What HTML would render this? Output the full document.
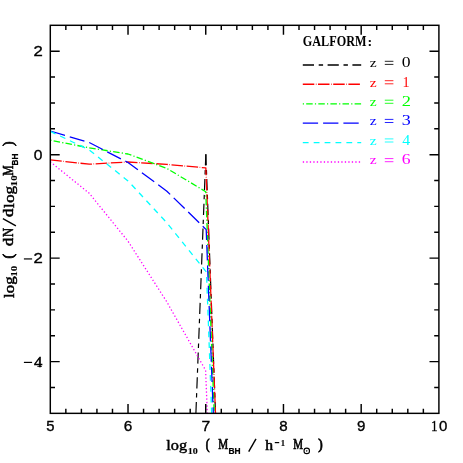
<!DOCTYPE html>
<html><head><meta charset="utf-8"><title>GALFORM</title>
<style>
html,body{margin:0;padding:0;background:#fff;}
body{width:463px;height:463px;overflow:hidden;}
svg{display:block;will-change:transform;}
text{font-family:"Liberation Serif",serif;}
</style></head><body>
<svg width="463" height="463" viewBox="0 0 463 463">
<rect x="0" y="0" width="463" height="463" fill="#ffffff"/>
<defs><clipPath id="cp"><rect x="50.30" y="25.30" width="388.60" height="388.05"/></clipPath></defs>

<g clip-path="url(#cp)" fill="none" stroke-linejoin="round">
<path d="M205.85 154.2L215.5 413.35" stroke="#000" stroke-width="1.2" stroke-dasharray="11.2 4.7 4.4 4.5"/>
<path d="M205.85 154.20 L195.90 413.35" stroke="#000000" stroke-width="1.20" stroke-dasharray="11.2 4.7 4.4 4.5" stroke-dashoffset="0"/>
<path d="M50.30 159.90 L89.16 164.20 L128.02 162.00 L166.88 164.40 L205.84 167.90 L215.50 413.35" stroke="#ff0000" stroke-width="1.30" stroke-dasharray="11.5 1.55 0.6 1.55" stroke-dashoffset="0"/>
<path d="M50.30 140.20 L89.16 147.80 L128.02 154.00 L166.88 168.40 L205.74 191.70 L214.20 413.35" stroke="#00ff00" stroke-width="1.30" stroke-dasharray="1.2 2.2 6.5 2.2" stroke-dashoffset="0"/>
<path d="M50.30 131.00 L89.16 142.50 L128.02 162.50 L166.88 191.20 L206.20 229.60 L213.30 413.35" stroke="#0000ff" stroke-width="1.30" stroke-dasharray="15.3 5.0" stroke-dashoffset="0"/>
<path d="M50.30 131.30 L89.16 149.90 L128.02 180.90 L166.88 222.90 L206.50 272.20 L211.70 413.35" stroke="#00ffff" stroke-width="1.30" stroke-dasharray="5.8 5.1" stroke-dashoffset="0"/>
<path d="M50.30 161.80 L89.16 193.20 L128.02 241.20 L166.88 302.00 L205.60 370.30 L207.30 413.35" stroke="#ff00ff" stroke-width="1.30" stroke-dasharray="1.3 2.2" stroke-dashoffset="0"/>
</g>
<g stroke="#000" stroke-width="1.45" fill="none">
<rect x="50.30" y="25.30" width="388.60" height="388.05"/>
<path d="M65.84 413.35V408.65M65.84 25.30V30.00M81.39 413.35V408.65M81.39 25.30V30.00M96.93 413.35V408.65M96.93 25.30V30.00M112.48 413.35V408.65M112.48 25.30V30.00M128.02 413.35V403.95M128.02 25.30V34.70M143.56 413.35V408.65M143.56 25.30V30.00M159.11 413.35V408.65M159.11 25.30V30.00M174.65 413.35V408.65M174.65 25.30V30.00M190.20 413.35V408.65M190.20 25.30V30.00M205.74 413.35V403.95M205.74 25.30V34.70M221.28 413.35V408.65M221.28 25.30V30.00M236.83 413.35V408.65M236.83 25.30V30.00M252.37 413.35V408.65M252.37 25.30V30.00M267.92 413.35V408.65M267.92 25.30V30.00M283.46 413.35V403.95M283.46 25.30V34.70M299.00 413.35V408.65M299.00 25.30V30.00M314.55 413.35V408.65M314.55 25.30V30.00M330.09 413.35V408.65M330.09 25.30V30.00M345.64 413.35V408.65M345.64 25.30V30.00M361.18 413.35V403.95M361.18 25.30V34.70M376.72 413.35V408.65M376.72 25.30V30.00M392.27 413.35V408.65M392.27 25.30V30.00M407.81 413.35V408.65M407.81 25.30V30.00M423.36 413.35V408.65M423.36 25.30V30.00M50.30 387.48H55.00M438.90 387.48H434.20M50.30 361.61H59.70M438.90 361.61H429.50M50.30 335.74H55.00M438.90 335.74H434.20M50.30 309.87H55.00M438.90 309.87H434.20M50.30 284.00H55.00M438.90 284.00H434.20M50.30 258.13H59.70M438.90 258.13H429.50M50.30 232.26H55.00M438.90 232.26H434.20M50.30 206.39H55.00M438.90 206.39H434.20M50.30 180.52H55.00M438.90 180.52H434.20M50.30 154.65H59.70M438.90 154.65H429.50M50.30 128.78H55.00M438.90 128.78H434.20M50.30 102.91H55.00M438.90 102.91H434.20M50.30 77.04H55.00M438.90 77.04H434.20M50.30 51.17H59.70M438.90 51.17H429.50"/>
</g>
<g>
<text transform="matrix(1.2116 0 0 1.0139 166.300 449.632)" font-size="13.5" fill="#000" stroke="#000" stroke-width="0.42">log</text>
<text transform="matrix(1.2276 0 0 1.0667 187.833 453.767)" font-size="8.2" font-weight="bold" fill="#000" stroke="#000" stroke-width="0.1">10</text>
<text transform="matrix(0.8485 0 0 1.0491 205.688 448.959)" font-size="13.5" fill="#000" stroke="#000" stroke-width="0.75">(</text>
<text transform="matrix(0.8255 0 0 1.0240 218.297 449.344)" font-size="13.5" fill="#000" stroke="#000" stroke-width="0.6">M</text>
<text transform="matrix(1.1062 0 0 1.1455 228.385 453.757)" font-size="7.6" style="font-family:'Liberation Sans',sans-serif" font-weight="bold" fill="#000" stroke="#000" stroke-width="0.2">BH</text>
<text transform="matrix(1.1571 0 0 1.0127 265.245 449.547)" font-size="13.5" fill="#000" stroke="#000" stroke-width="0.5">h</text>
<text transform="matrix(1.0560 0 0 1.0182 280.840 445.600)" font-size="8.2" font-weight="bold" fill="#000" stroke="#000" stroke-width="0.1">1</text>
<text transform="matrix(0.8170 0 0 1.0240 293.298 449.344)" font-size="13.5" fill="#000" stroke="#000" stroke-width="0.6">M</text>
<text transform="matrix(0.9882 0 0 1.0566 318.200 448.934)" font-size="13.5" fill="#000" stroke="#000" stroke-width="0.75">)</text>
<text transform="matrix(1.0034 0 0 0.9553 46.224 430.711)" font-size="14.8" style="font-family:'Liberation Sans',sans-serif" fill="#000" stroke="#000" stroke-width="0.35">5</text>
<text transform="matrix(1.0386 0 0 0.9442 123.671 430.714)" font-size="14.8" style="font-family:'Liberation Sans',sans-serif" fill="#000" stroke="#000" stroke-width="0.35">6</text>
<text transform="matrix(1.0571 0 0 0.9524 201.379 430.681)" font-size="14.8" style="font-family:'Liberation Sans',sans-serif" fill="#000" stroke="#000" stroke-width="0.35">7</text>
<text transform="matrix(1.0207 0 0 0.9442 279.250 430.714)" font-size="14.8" style="font-family:'Liberation Sans',sans-serif" fill="#000" stroke="#000" stroke-width="0.35">8</text>
<text transform="matrix(1.0207 0 0 0.9442 356.970 430.714)" font-size="14.8" style="font-family:'Liberation Sans',sans-serif" fill="#000" stroke="#000" stroke-width="0.35">9</text>
<text transform="matrix(0.8356 0 0 0.9778 431.260 430.678)" font-size="14.8" fill="#000" stroke="#000" stroke-width="0.4">1</text>
<text transform="matrix(1.0133 0 0 0.9581 438.920 430.760)" font-size="14.8" style="font-family:'Liberation Sans',sans-serif" fill="#000" stroke="#000" stroke-width="0.35">0</text>
<text transform="matrix(1.1286 0 0 0.9694 33.495 56.149)" font-size="14.8" style="font-family:'Liberation Sans',sans-serif" fill="#000" stroke="#000" stroke-width="0.35">2</text>
<text transform="matrix(1.0533 0 0 0.9581 33.805 159.510)" font-size="14.8" style="font-family:'Liberation Sans',sans-serif" fill="#000" stroke="#000" stroke-width="0.35">0</text>
<text transform="matrix(1.1286 0 0 0.9694 33.495 263.109)" font-size="14.8" style="font-family:'Liberation Sans',sans-serif" fill="#000" stroke="#000" stroke-width="0.35">2</text>
<text transform="matrix(1.1254 0 0 1.0049 34.000 366.559)" font-size="14.8" fill="#000" stroke="#000" stroke-width="0.5">4</text>
<text transform="matrix(0.8430 0 0 1.0564 302.768 46.068)" font-size="14.5" font-weight="bold" fill="#000">GALFORM</text>
<text transform="matrix(0.9778 0 0 0.9000 367.578 45.675)" font-size="14.5" font-weight="bold" fill="#000">:</text>
<text transform="matrix(1.1619 0 0 0.9959 369.664 67.100)" font-size="13.4" fill="#000000">z</text>
<text transform="matrix(1.3156 0 0 1.0278 401.842 67.122)" font-size="13.4" fill="#000000">0</text>
<text transform="matrix(1.1619 0 0 0.9959 369.664 86.500)" font-size="13.4" fill="#ff0000">z</text>
<text transform="matrix(1.0526 0 0 1.0254 402.416 86.500)" font-size="13.4" fill="#ff0000">1</text>
<text transform="matrix(1.1619 0 0 0.9959 369.664 106.000)" font-size="13.4" fill="#00ff00">z</text>
<text transform="matrix(1.3767 0 0 1.0254 401.640 106.000)" font-size="13.4" fill="#00ff00">2</text>
<text transform="matrix(1.1619 0 0 0.9959 369.664 125.200)" font-size="13.4" fill="#0000ff">z</text>
<text transform="matrix(1.3455 0 0 1.0278 401.659 125.222)" font-size="13.4" fill="#0000ff">3</text>
<text transform="matrix(1.1619 0 0 0.9959 369.664 144.700)" font-size="13.4" fill="#00ffff">z</text>
<text transform="matrix(1.1840 0 0 1.0400 402.204 144.700)" font-size="13.4" fill="#00ffff">4</text>
<text transform="matrix(1.1619 0 0 0.9959 369.664 164.400)" font-size="13.4" fill="#ff00ff">z</text>
<text transform="matrix(1.3156 0 0 1.0278 401.678 164.422)" font-size="13.4" fill="#ff00ff">6</text>
</g>
<g transform="translate(13.5 298.0) rotate(-90)">
<text transform="matrix(1.2522 0 0 1.1168 0.000 0.310)" font-size="13.5" fill="#000" stroke="#000" stroke-width="0.42">log</text>
<text transform="matrix(1.2966 0 0 1.0844 21.390 3.864)" font-size="8.2" font-weight="bold" fill="#000" stroke="#000" stroke-width="0.1">10</text>
<text transform="matrix(1.0424 0 0 1.0717 39.439 -0.717)" font-size="13.5" fill="#000" stroke="#000" stroke-width="0.75">(</text>
<text transform="matrix(1.2226 0 0 1.0600 52.094 -0.098)" font-size="13.5" fill="#000" stroke="#000" stroke-width="0.5">d</text>
<text transform="matrix(0.9247 0 0 1.0773 60.884 -0.169)" font-size="13.5" fill="#000" stroke="#000" stroke-width="0.5">N</text>
<text transform="matrix(1.2528 0 0 1.0600 80.887 -0.098)" font-size="13.5" fill="#000" stroke="#000" stroke-width="0.5">d</text>
<text transform="matrix(1.2812 0 0 1.1168 90.100 0.310)" font-size="13.5" fill="#000" stroke="#000" stroke-width="0.42">log</text>
<text transform="matrix(1.3103 0 0 1.0844 111.781 3.864)" font-size="8.2" font-weight="bold" fill="#000" stroke="#000" stroke-width="0.1">10</text>
<text transform="matrix(0.8681 0 0 1.0667 122.191 -0.367)" font-size="13.5" fill="#000" stroke="#000" stroke-width="0.6">M</text>
<text transform="matrix(1.0864 0 0 1.1818 132.593 4.152)" font-size="7.6" style="font-family:'Liberation Sans',sans-serif" font-weight="bold" fill="#000" stroke="#000" stroke-width="0.2">BH</text>
<text transform="matrix(1.0118 0 0 1.0943 151.900 -0.493)" font-size="13.5" fill="#000" stroke="#000" stroke-width="0.75">)</text>
</g>
<path d="M2.9 218.7L15.9 225.8" stroke="#000" stroke-width="1.4" fill="none"/>
<g stroke="#000" fill="none">
<path d="M248.7 451.6L256.0 438.8" stroke-width="1.4"/>
<path d="M274.8 442.6H279.2" stroke-width="1.2"/>
<circle cx="306.75" cy="450.9" r="2.75" stroke-width="1.1"/>
<circle cx="306.75" cy="450.9" r="0.45" stroke-width="0.8"/>
<path d="M23.9 258.93H32.1" stroke-width="1.2"/>
<path d="M23.9 362.41H32.1" stroke-width="1.2"/>
<path d="M37.3 366.36H41.9" stroke-width="0.9"/>
</g>
<path d="M302.8 65.00H361.2" fill="none" stroke="#000000" stroke-width="1.40" stroke-dasharray="11.2 4.7 4.4 4.5"/>
<path d="M384.8 61.30H393.4M384.8 64.40H393.4" fill="none" stroke="#000000" stroke-width="0.85"/>
<path d="M302.8 84.25H361.2" fill="none" stroke="#ff0000" stroke-width="1.30" stroke-dasharray="11.5 1.55 0.6 1.55"/>
<path d="M384.8 80.70H393.4M384.8 83.80H393.4" fill="none" stroke="#ff0000" stroke-width="0.85"/>
<path d="M302.8 103.90H361.2" fill="none" stroke="#00ff00" stroke-width="1.30" stroke-dasharray="1.2 2.2 6.5 2.2"/>
<path d="M384.8 100.20H393.4M384.8 103.30H393.4" fill="none" stroke="#00ff00" stroke-width="0.85"/>
<path d="M302.8 123.10H361.2" fill="none" stroke="#0000ff" stroke-width="1.30" stroke-dasharray="15.3 5.0"/>
<path d="M384.8 119.40H393.4M384.8 122.50H393.4" fill="none" stroke="#0000ff" stroke-width="0.85"/>
<path d="M302.8 142.60H361.2" fill="none" stroke="#00ffff" stroke-width="1.30" stroke-dasharray="5.8 5.1"/>
<path d="M384.8 138.90H393.4M384.8 142.00H393.4" fill="none" stroke="#00ffff" stroke-width="0.85"/>
<path d="M302.8 162.00H361.2" fill="none" stroke="#ff00ff" stroke-width="1.30" stroke-dasharray="1.3 2.2"/>
<path d="M384.8 158.60H393.4M384.8 161.70H393.4" fill="none" stroke="#ff00ff" stroke-width="0.85"/>
</svg></body></html>
